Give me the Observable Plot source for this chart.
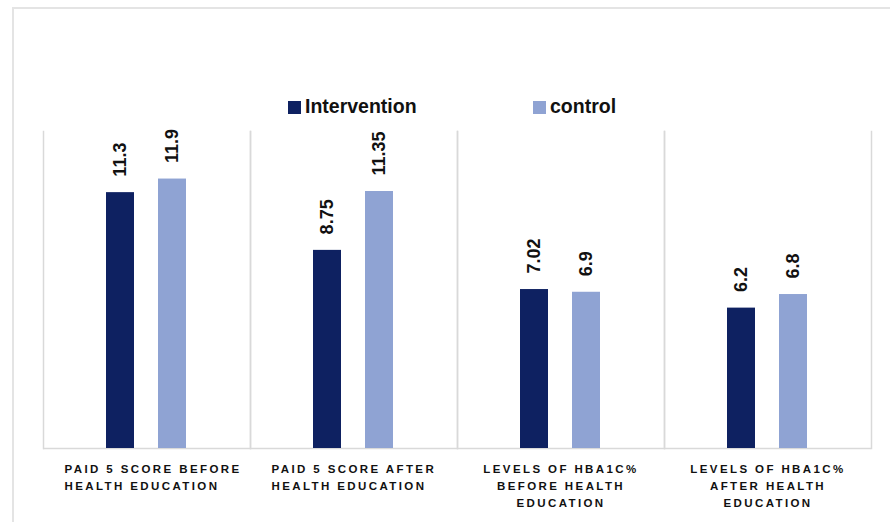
<!DOCTYPE html>
<html>
<head>
<meta charset="utf-8">
<script src="https://cdn.jsdelivr.net/npm/d3@7"></script>
<script src="https://cdn.jsdelivr.net/npm/@observablehq/plot@0.6"></script>
<style>
  html, body { margin: 0; padding: 0; background: #fff; }
  #wrap { position: relative; width: 890px; height: 523px; overflow: hidden; font-family: "Liberation Sans", Arial, sans-serif; }
  #border { position: absolute; left: 12px; top: 7px; width: 900px; height: 513px; border-left: 2px solid #e4e4e4; border-top: 2px solid #e4e4e4; }
  #legend { position: absolute; top: 94px; left: 0; height: 24px; width: 890px; font-weight: bold; font-size: 19.5px; color: #111; }
  .item { position: absolute; top: 0; height: 24px; line-height: 24px; white-space: nowrap; }
  .sw { display: inline-block; width: 13px; height: 13px; vertical-align: -1px; margin-right: 4px; }
  #chart { position: absolute; left: 0; top: 0; }
  g[aria-label="fx-axis tick label"] text { letter-spacing: 2.4px; }
</style>
</head>
<body>
<div id="wrap">
  <div id="border"></div>
  <div id="chart"></div>
  <div id="legend"></div>
</div>
<script>
const categories = [
  "PAID 5 SCORE BEFORE HEALTH EDUCATION",
  "PAID 5 SCORE AFTER HEALTH EDUCATION",
  "LEVELS OF HBA1C% BEFORE HEALTH EDUCATION",
  "LEVELS OF HBA1C% AFTER HEALTH EDUCATION"
];
const tickLabels = [
  "PAID 5 SCORE BEFORE\nHEALTH EDUCATION",
  "PAID 5 SCORE AFTER\nHEALTH EDUCATION",
  "LEVELS OF HBA1C%\nBEFORE HEALTH\nEDUCATION",
  "LEVELS OF HBA1C%\nAFTER HEALTH\nEDUCATION"
];
const series = ["Intervention", "control"];
const interventionValues = [11.3, 8.75, 7.02, 6.2];
const controlValues = [11.9, 11.35, 6.9, 6.8];
const colors = ["#0e2161", "#8fa3d3"];

const table = [];
categories.forEach((c, i) => {
  table.push({category: c, series: series[0], value: interventionValues[i]});
  table.push({category: c, series: series[1], value: controlValues[i]});
});
const labelOf = new Map(categories.map((c, i) => [c, tickLabels[i]]));

const font = "Liberation Sans, Arial, sans-serif";
const chart = Plot.plot({
  width: 890,
  height: 523,
  marginTop: 131,
  marginBottom: 75,
  marginLeft: 42,
  marginRight: 18,
  style: {fontFamily: font, background: "transparent", color: "#111"},
  fx: {domain: categories, padding: 0, label: null},
  x: {domain: series, paddingInner: 0.46, paddingOuter: 1.19, axis: null},
  y: {domain: [0, 14], axis: null},
  color: {domain: series, range: colors},
  marks: [
    Plot.frame({anchor: "left", stroke: "#d9d9d9", strokeWidth: 1.5}),
    Plot.frame({anchor: "right", stroke: "#d9d9d9", strokeWidth: 1.5}),
    Plot.ruleY([0], {stroke: "#d9d9d9", strokeWidth: 1.5}),
    Plot.barY(table, {fx: "category", x: "series", y: "value", fill: "series"}),
    Plot.text(table, {
      fx: "category", x: "series", y: "value", text: d => String(d.value),
      rotate: -90, textAnchor: "start", lineAnchor: "middle", dy: -16,
      fontSize: 18, fontWeight: "bold", fill: "#111"
    }),
    Plot.axisFx({
      anchor: "bottom", ticks: categories.slice(0, 2), tickSize: 0, tickPadding: 13,
      tickFormat: c => labelOf.get(c), textAnchor: "start", dx: -82.5,
      fontSize: 11.5, fontWeight: "bold", lineHeight: 1.45, label: null, fill: "#111"
    }),
    Plot.axisFx({
      anchor: "bottom", ticks: categories.slice(2), tickSize: 0, tickPadding: 13,
      tickFormat: c => labelOf.get(c), textAnchor: "middle",
      fontSize: 11.5, fontWeight: "bold", lineHeight: 1.45, label: null, fill: "#111"
    })
  ]
});
document.getElementById("chart").appendChild(chart);

const legend = document.getElementById("legend");
const legendLeft = [288, 533];
series.forEach((s, i) => {
  const item = document.createElement("div");
  item.className = "item";
  item.style.left = legendLeft[i] + "px";
  const sw = document.createElement("span");
  sw.className = "sw";
  sw.style.background = colors[i];
  item.appendChild(sw);
  item.appendChild(document.createTextNode(s));
  legend.appendChild(item);
});
</script>
</body>
</html>
